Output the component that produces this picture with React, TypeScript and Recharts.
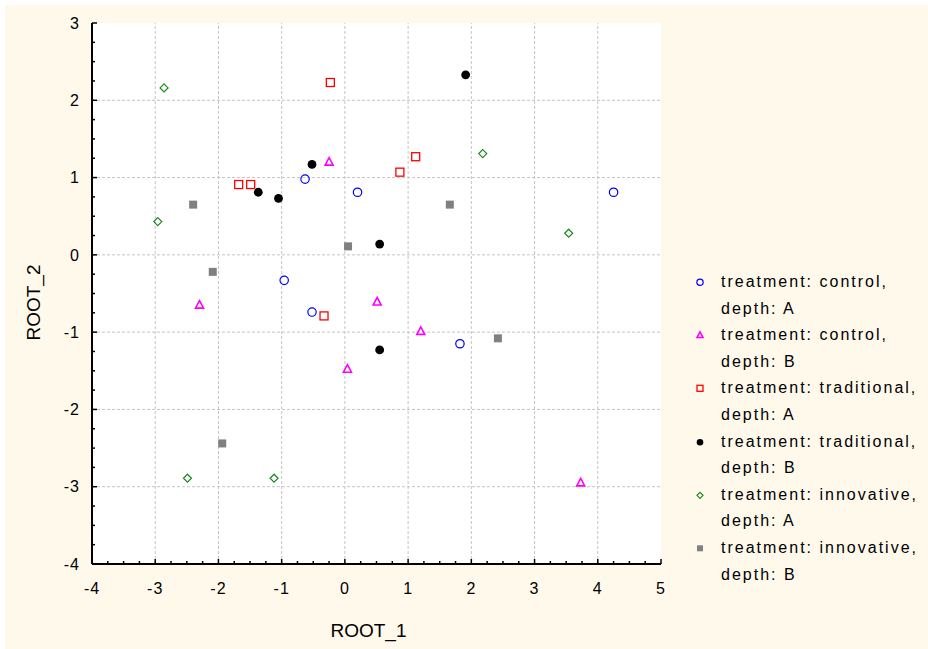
import React from 'react';
import { ScatterChart, Scatter, XAxis, YAxis, CartesianGrid, ReferenceLine, Legend } from 'recharts';

const FONT = 'Arial, "Liberation Sans", sans-serif';

// axis ticks
const xTicks = [-4, -3, -2, -1, 0, 1, 2, 3, 4, 5];
const yTicks = [-4, -3, -2, -1, 0, 1, 2, 3];
const quarters = (from: number, to: number) =>
  Array.from({ length: (to - from) * 4 + 1 }, (_, i) => from + i / 4);
const xMinorTicks = quarters(-4, 5);
const yMinorTicks = quarters(-4, 3);
const xGrid = xTicks.slice(1, -1);
const yGrid = yTicks.slice(1, -1);

// series values (ROOT_1, ROOT_2)
const controlA = [
  { x: -0.63, y: 0.98 }, { x: 0.2, y: 0.81 }, { x: 4.25, y: 0.81 },
  { x: -0.96, y: -0.33 }, { x: -0.52, y: -0.74 }, { x: 1.82, y: -1.15 },
];
const controlB = [
  { x: -0.25, y: 1.2 }, { x: -2.3, y: -0.65 }, { x: 0.04, y: -1.48 },
  { x: 1.2, y: -0.99 }, { x: 0.51, y: -0.61 }, { x: 3.73, y: -2.95 },
];
const traditionalA = [
  { x: -0.23, y: 2.23 }, { x: -1.68, y: 0.91 }, { x: -1.49, y: 0.91 },
  { x: 1.12, y: 1.27 }, { x: 0.87, y: 1.07 }, { x: -0.33, y: -0.79 },
];
const traditionalB = [
  { x: -1.37, y: 0.81 }, { x: -1.05, y: 0.73 }, { x: -0.52, y: 1.17 },
  { x: 1.91, y: 2.33 }, { x: 0.55, y: 0.14 }, { x: 0.55, y: -1.23 },
];
const innovativeA = [
  { x: -2.86, y: 2.16 }, { x: -2.96, y: 0.43 }, { x: 2.18, y: 1.31 },
  { x: 3.54, y: 0.28 }, { x: -2.49, y: -2.89 }, { x: -1.12, y: -2.89 },
];
const innovativeB = [
  { x: -2.4, y: 0.65 }, { x: -2.09, y: -0.22 }, { x: 0.05, y: 0.11 },
  { x: 1.66, y: 0.65 }, { x: 2.42, y: -1.08 }, { x: -1.94, y: -2.44 },
];

const seriesList = [
  { name: 'treatment: control, depth: A', data: controlA, kind: 'circle', color: '#0000ff' },
  { name: 'treatment: control, depth: B', data: controlB, kind: 'triangle', color: '#ff00ff' },
  { name: 'treatment: traditional, depth: A', data: traditionalA, kind: 'square', color: '#ff0000' },
  { name: 'treatment: traditional, depth: B', data: traditionalB, kind: 'dot', color: '#000000' },
  { name: 'treatment: innovative, depth: A', data: innovativeA, kind: 'diamond', color: '#1a8a1a' },
  { name: 'treatment: innovative, depth: B', data: innovativeB, kind: 'block', color: '#808080' },
];

const Marker = ({ kind, cx, cy, s = 1 }: any) => {
  const h = 4 * s;
  switch (kind) {
    case 'circle':
      return <circle cx={cx} cy={cy} r={4.2 * s} fill="none" stroke="#0000ff" strokeWidth={1.2} />;
    case 'triangle':
      return (
        <polygon
          points={`${cx},${cy - 4.5 * s} ${cx + 4 * s},${cy + 3 * s} ${cx - 4 * s},${cy + 3 * s}`}
          fill="none" stroke="#ff00ff" strokeWidth={1.6}
        />
      );
    case 'square':
      return <rect x={cx - h} y={cy - h} width={2 * h} height={2 * h} fill="none" stroke="#ff0000" strokeWidth={1.3} />;
    case 'dot':
      return <circle cx={cx} cy={cy} r={4.4 * s} fill="#000" />;
    case 'diamond':
      return (
        <polygon
          points={`${cx},${cy - h} ${cx + h},${cy} ${cx},${cy + h} ${cx - h},${cy}`}
          fill="none" stroke="#1a8a1a" strokeWidth={1.2}
        />
      );
    default:
      return <rect x={cx - h} y={cy - h} width={2 * h} height={2 * h} fill="#808080" />;
  }
};

const tickText = { fontSize: 16, fontFamily: FONT, fill: '#000', letterSpacing: 1 };
const tickLen = (v: number) => (Number.isInteger(v) ? 5 : 3);

const BottomTick = ({ x, y, payload }: any) => (
  <g>
    <line x1={x} x2={x} y1={y} y2={y - tickLen(payload.value)} stroke="#000" strokeWidth={1.5} />
    {Number.isInteger(payload.value) && (
      <text x={x} y={y + 30} textAnchor="middle" {...tickText}>{payload.value}</text>
    )}
  </g>
);
const TopTick = ({ x, y, payload }: any) => (
  <line x1={x} x2={x} y1={y} y2={y + tickLen(payload.value)} stroke="#000" strokeWidth={1.5} />
);
const LeftTick = ({ x, y, payload }: any) => (
  <g>
    <line x1={x} x2={x + tickLen(payload.value)} y1={y} y2={y} stroke="#000" strokeWidth={1.5} />
    {Number.isInteger(payload.value) && (
      <text x={x - 12} y={y} dy="0.36em" textAnchor="end" {...tickText}>{payload.value}</text>
    )}
  </g>
);
const RightTick = ({ x, y, payload }: any) => (
  <line x1={x} x2={x - tickLen(payload.value)} y1={y} y2={y} stroke="#000" strokeWidth={1.5} />
);

const order = (name: string) => seriesList.findIndex((d) => d.name === name);

const LegendContent = ({ payload }: any) => (
  <div style={{ fontFamily: FONT, fontSize: 16, letterSpacing: '2px', lineHeight: '26.6px', color: '#000' }}>
    {[...(payload || [])]
      .sort((a: any, b: any) => order(a.value) - order(b.value))
      .map((entry: any) => {
        const s = seriesList[order(entry.value)];
        const [first, second] = String(entry.value).split(', ');
        return (
          <div key={entry.value} style={{ display: 'flex', whiteSpace: 'nowrap' }}>
            <svg width={10} height={26.6} style={{ flex: 'none' }}>
              <Marker kind={s?.kind} cx={5} cy={13.3} s={0.75} />
            </svg>
            <div style={{ marginLeft: 16 }}>
              {first},<br />
              {second}
            </div>
          </div>
        );
      })}
  </div>
);

const axisLine = { stroke: '#000', strokeWidth: 2 };

export default function App() {
  return (
    <div style={{ position: 'absolute', left: 5, top: 5, width: 923, height: 644, background: '#fff9ec' }}>
      <ScatterChart width={923} height={644} margin={{ top: 18, right: 267, bottom: 0, left: 0 }}>
        <CartesianGrid fill="#ffffff" horizontal={false} vertical={false} />
        {xGrid.map((v) => (
          <ReferenceLine key={`gx${v}`} x={v} stroke="#c4c4c4" strokeDasharray="3 2" />
        ))}
        {yGrid.map((v) => (
          <ReferenceLine key={`gy${v}`} y={v} stroke="#c4c4c4" strokeDasharray="3 2" />
        ))}
        <XAxis
          type="number" dataKey="x" domain={[-4, 5]} allowDataOverflow ticks={xMinorTicks} interval={0}
          height={85} tickSize={0} tickMargin={0} tickLine={false} axisLine={axisLine} tick={<BottomTick />}
          label={{ value: 'ROOT_1', position: 'insideBottom', offset: 12, dx: -8, style: { fontSize: 19, fontFamily: FONT, fill: '#000' } }}
        />
        <XAxis
          xAxisId="top" orientation="top" type="number" domain={[-4, 5]} allowDataOverflow ticks={xMinorTicks}
          interval={0} height={0} tickSize={0} tickMargin={0} tickLine={false} axisLine={axisLine} tick={<TopTick />}
        />
        <YAxis
          type="number" dataKey="y" domain={[-4, 3]} allowDataOverflow ticks={yMinorTicks} interval={0}
          width={87} tickSize={0} tickMargin={0} tickLine={false} axisLine={axisLine} tick={<LeftTick />}
          label={{ value: 'ROOT_2', angle: -90, position: 'insideLeft', offset: 28, dy: 9, style: { fontSize: 19, fontFamily: FONT, fill: '#000', textAnchor: 'middle' } }}
        />
        <YAxis
          yAxisId="right" orientation="right" type="number" domain={[-4, 3]} allowDataOverflow ticks={yMinorTicks}
          interval={0} width={0} tickSize={0} tickMargin={0} tickLine={false} axisLine={axisLine} tick={<RightTick />}
        />
        {seriesList.map((s) => (
          <Scatter
            key={s.name}
            name={s.name}
            data={s.data}
            fill={s.color}
            isAnimationActive={false}
            shape={(p: any) => <Marker kind={s.kind} cx={p.cx} cy={p.cy} />}
          />
        ))}
        <Legend
          layout="vertical" align="center" verticalAlign="middle"
          wrapperStyle={{ left: 690, top: 264, width: 235 }}
          content={<LegendContent />}
        />
      </ScatterChart>
    </div>
  );
}
